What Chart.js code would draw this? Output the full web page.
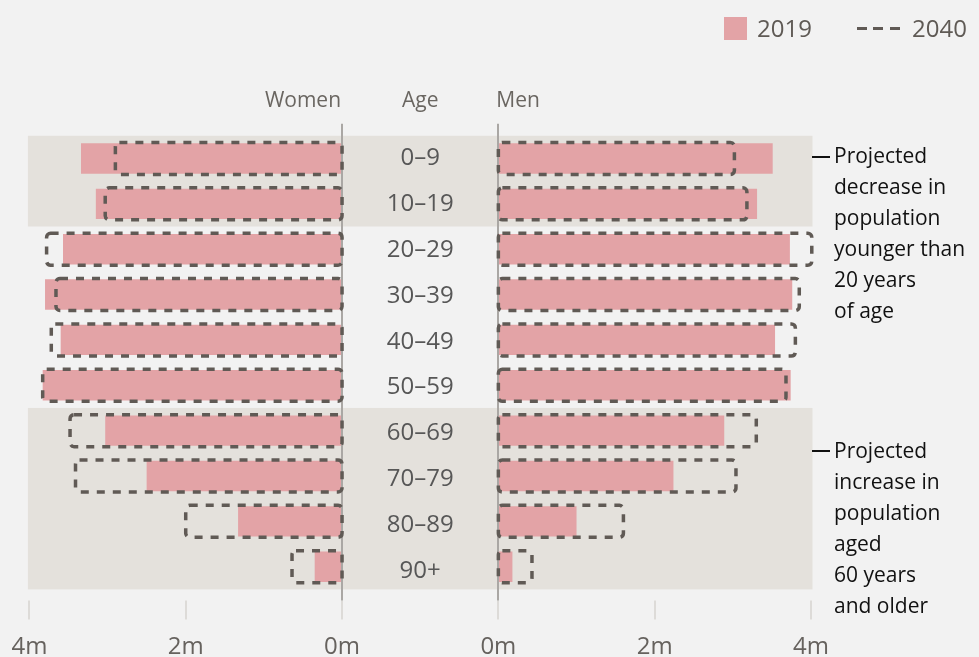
<!DOCTYPE html>
<html>
<head>
<meta charset="utf-8">
<script src="https://cdn.jsdelivr.net/npm/chart.js@4.4.1/dist/chart.umd.min.js"></script>
<style>
  html, body { margin: 0; padding: 0; background: #f2f2f2; }
  body { width: 979px; height: 657px; position: relative; overflow: hidden; font-family: "Open Sans", sans-serif; }
  #pyramid { position: absolute; left: 0; top: 0; }
  .legend-item { position: absolute; top: 12px; font-size: 24px; line-height: 32px; color: #5f5a55; }
  .swatch { position: absolute; left: 724px; top: 17px; width: 23px; height: 23px; background: #e3a3a6; }
  .dashline { position: absolute; left: 857px; top: 27px; width: 43px; height: 3px;
    background: repeating-linear-gradient(to right, #605a55 0 10px, transparent 10px 16.5px); }
  .note { position: absolute; left: 834px; font-size: 21px; line-height: 31px; color: #111; }
  .tick { position: absolute; left: 812px; width: 18px; height: 2px; background: #111; }
</style>
</head>
<body>
<canvas id="pyramid" width="979" height="657"></canvas>

<div class="swatch"></div>
<div class="legend-item" style="left:757px">2019</div>
<div class="dashline"></div>
<div class="legend-item" style="left:912px">2040</div>

<div class="tick" style="top:156px"></div>
<div class="note" style="top:140px">Projected<br>decrease in<br>population<br>younger than<br>20 years<br>of age</div>
<div class="tick" style="top:450px"></div>
<div class="note" style="top:435px">Projected<br>increase in<br>population<br>aged<br>60 years<br>and older</div>

<script>
  // population in millions
  const ageGroups = ['0–9', '10–19', '20–29', '30–39', '40–49', '50–59', '60–69', '70–79', '80–89', '90+'];
  const women2019 = [3.34, 3.15, 3.57, 3.80, 3.60, 3.83, 3.03, 2.50, 1.33, 0.35];
  const women2040 = [2.90, 3.03, 3.78, 3.66, 3.72, 3.83, 3.48, 3.41, 2.00, 0.64];
  const men2019 = [3.51, 3.31, 3.73, 3.76, 3.54, 3.74, 2.89, 2.24, 1.00, 0.18];
  const men2040 = [3.02, 3.18, 4.01, 3.85, 3.80, 3.68, 3.30, 3.04, 1.60, 0.43];
  const tickMillions = [0, 2, 4];
  const shadedBands = [[0, 1], [6, 9]];   // index ranges of age groups with grey background

  const GAP = 1;      // half of the empty middle column, in axis units
  const MAXV = 4;
  const pink = '#e3a3a6';
  const dashColor = '#605a55';

  Chart.defaults.font.family = '"Open Sans", sans-serif';

  function boxPath(ctx, x, y, w, h, r) {
    ctx.beginPath();
    ctx.moveTo(x + r, y);
    ctx.arcTo(x + w, y, x + w, y + h, r);
    ctx.arcTo(x + w, y + h, x, y + h, r);
    ctx.arcTo(x, y + h, x, y, r);
    ctx.arcTo(x, y, x + w, y, r);
    ctx.closePath();
  }

  const pyramidDecor = {
    id: 'pyramidDecor',
    beforeDatasetsDraw(chart) {
      const { ctx, chartArea: a, scales: { x, y } } = chart;
      const half = (y.getPixelForValue(1) - y.getPixelForValue(0)) / 2;
      ctx.save();
      ctx.fillStyle = '#e4e1dc';
      shadedBands.forEach(([from, to]) => {
        const top = y.getPixelForValue(from) - half;
        const bottom = y.getPixelForValue(to) + half;
        ctx.fillRect(a.left - 1.5, top, a.right - a.left + 3, bottom - top);
      });

      // tick marks under the plot
      ctx.strokeStyle = '#dddbd8';
      ctx.lineWidth = 2;
      x.ticks.forEach(t => {
        const px = Math.round(x.getPixelForValue(t.value));
        ctx.beginPath();
        ctx.moveTo(px, a.bottom + 11);
        ctx.lineTo(px, a.bottom + 30);
        ctx.stroke();
      });

      // age labels in the middle column
      ctx.fillStyle = '#575757';
      ctx.font = '24px "Open Sans"';
      ctx.textAlign = 'center';
      ctx.textBaseline = 'middle';
      const mid = x.getPixelForValue(0);
      ageGroups.forEach((g, i) => ctx.fillText(g, mid, y.getPixelForValue(i) + i * 0.45));

      // column headers
      ctx.fillStyle = '#6a6661';
      ctx.font = '21px "Open Sans"';
      const hy = a.top - 35;
      ctx.textAlign = 'right';
      ctx.fillText('Women', x.getPixelForValue(-GAP) - 1, hy);
      ctx.textAlign = 'center';
      ctx.fillText('Age', mid, hy);
      ctx.textAlign = 'left';
      ctx.fillText('Men', x.getPixelForValue(GAP) - 2, hy);
      ctx.restore();
    },
    beforeDatasetDraw(chart, args) {
      // zero lines go on top of the 2019 bars, under the 2040 outlines
      if (args.index !== 2) return;
      const { ctx, chartArea: a, scales: { x } } = chart;
      ctx.save();
      ctx.strokeStyle = '#aaa7a4';
      ctx.lineWidth = 2;
      [-GAP, GAP].forEach(v => {
        const px = Math.round(x.getPixelForValue(v));
        ctx.beginPath();
        ctx.moveTo(px, a.top - 12);
        ctx.lineTo(px, a.bottom + 11);
        ctx.stroke();
      });
      ctx.restore();
    },
    afterDatasetsDraw(chart) {
      const { ctx } = chart;
      ctx.save();
      ctx.strokeStyle = dashColor;
      ctx.lineWidth = 3.5;
      ctx.setLineDash([8, 8]);
      chart.data.datasets.forEach((ds, i) => {
        if (!ds.outline) return;
        chart.getDatasetMeta(i).data.forEach(bar => {
          const { x, y, base, height } = bar.getProps(['x', 'y', 'base', 'height'], true);
          const left = Math.min(x, base);
          boxPath(ctx, left, y - height / 2, Math.abs(x - base), height, 4);
          ctx.stroke();
        });
      });
      ctx.restore();
    }
  };

  const common = { categoryPercentage: 1, grouped: false, borderWidth: 0 };

  new Chart(document.getElementById('pyramid'), {
    type: 'bar',
    data: {
      labels: ageGroups,
      datasets: [
        { ...common, label: 'Women 2019', data: women2019.map(v => [-GAP - v, -GAP]), backgroundColor: pink, barPercentage: 0.67, order: 1 },
        { ...common, label: 'Men 2019', data: men2019.map(v => [GAP, GAP + v]), backgroundColor: pink, barPercentage: 0.67, order: 1 },
        { ...common, label: 'Women 2040', data: women2040.map(v => [-GAP - v, -GAP]), backgroundColor: 'rgba(0,0,0,0)', barPercentage: 0.705, outline: true, order: 0 },
        { ...common, label: 'Men 2040', data: men2040.map(v => [GAP, GAP + v]), backgroundColor: 'rgba(0,0,0,0)', barPercentage: 0.705, outline: true, order: 0 }
      ]
    },
    options: {
      indexAxis: 'y',
      responsive: false,
      animation: false,
      devicePixelRatio: 1,
      layout: { padding: { top: 135.8, left: 29.4, right: 168, bottom: 0 } },
      plugins: { legend: { display: false }, tooltip: { enabled: false } },
      scales: {
        y: { type: 'category', display: false, offset: true },
        x: {
          type: 'linear',
          min: -GAP - MAXV,
          max: GAP + MAXV,
          afterBuildTicks: s => {
            const left = tickMillions.map(m => -GAP - m).reverse();
            const right = tickMillions.map(m => GAP + m);
            s.ticks = left.concat(right).map(v => ({ value: v }));
          },
          afterFit: s => {
            s.height = 67.6;
            s.paddingLeft = 0;
            s.paddingRight = 0;
          },
          grid: { display: false, drawTicks: false },
          border: { display: false },
          ticks: {
            autoSkip: false,
            maxRotation: 0,
            padding: 43,
            color: '#66625e',
            font: { size: 24 },
            callback: v => (Math.abs(v) - GAP) + 'm'
          }
        }
      }
    },
    plugins: [pyramidDecor]
  });
</script>
</body>
</html>
